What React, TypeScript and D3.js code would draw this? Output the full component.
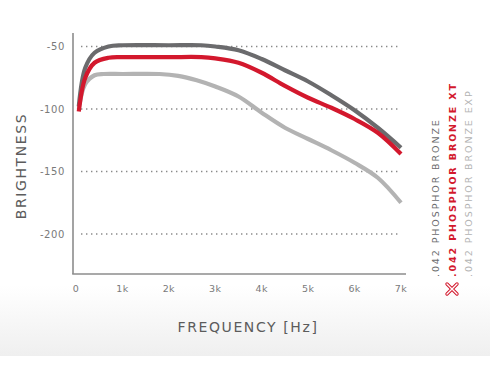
import React from 'react';
import * as d3 from 'd3';

// frequency (Hz) sample points per series
const darkFreq = [60, 200, 400, 700, 1000, 2000, 2700, 3000, 3500, 4000, 4500, 5000, 5500, 6000, 6500, 7000];
const darkVals = [-98, -67, -55, -50, -49, -49, -49, -50, -53, -60, -69, -78, -89, -101, -115, -131];

const redFreq = [60, 200, 400, 700, 1000, 2000, 2700, 3000, 3500, 4000, 4500, 5000, 5500, 6000, 6500, 7000];
const redVals = [-102, -75, -63, -59, -58.5, -58.5, -58.5, -59.5, -63, -71, -81.5, -91, -99, -108, -119, -136];

const lightFreq = [60, 200, 400, 600, 1000, 1800, 2200, 2600, 3000, 3500, 4000, 4500, 5000, 5500, 6000, 6500, 7000];
const lightVals = [-100, -80, -73, -72, -72, -72, -73.5, -77, -82, -90, -103, -115, -124, -133, -143, -155, -175];

const yTicks = [-50, -100, -150, -200];
const xTicks = [0, 1000, 2000, 3000, 4000, 5000, 6000, 7000];
const xTickLabels = ['0', '1k', '2k', '3k', '4k', '5k', '6k', '7k'];

const legendLabels = ['.042 PHOSPHOR BRONZE', '.042 PHOSPHOR BRONZE XT', '.042 PHOSPHOR BRONZE EXP'];
const legendColors = ['#6b6b6d', '#d3182d', '#b3b3b3'];

const W = 490, H = 368;
const font = '"DejaVu Sans", sans-serif';

export default function App() {
  const x = d3.scaleLinear().domain([0, 7000]).range([76, 401]);
  const y = d3.scaleLinear().domain([-50, -200]).range([46.5, 234]);

  const line = d3.line<[number, number]>()
    .x(d => x(d[0]))
    .y(d => y(d[1]))
    .curve(d3.curveCatmullRom.alpha(0.5));

  const series = [
    { f: lightFreq, v: lightVals, color: legendColors[2] },
    { f: darkFreq, v: darkVals, color: legendColors[0] },
    { f: redFreq, v: redVals, color: legendColors[1] },
  ];

  return (
    <svg width={W} height={H} style={{ position: 'absolute', left: 0, top: 0, background: '#fff' }}>
      <defs>
        <linearGradient id="bg" x1="0" y1="0" x2="0" y2="1">
          <stop offset="0" stopColor="#ffffff" />
          <stop offset="1" stopColor="#efefef" />
        </linearGradient>
      </defs>
      <rect x={0} y={0} width={W} height={H} fill="#fff" />
      <rect x={0} y={285} width={W} height={71} fill="url(#bg)" />

      {/* gridlines */}
      {yTicks.map(t => (
        <line key={t} x1={81} x2={401} y1={y(t)} y2={y(t)}
          stroke="#8a8a8a" strokeWidth={1.4} strokeDasharray="1.4 3.6" />
      ))}

      {/* axes */}
      <line x1={73} x2={73} y1={33} y2={274} stroke="#8c8c8c" strokeWidth={1.6} />
      <line x1={72.2} x2={406} y1={274} y2={274} stroke="#8c8c8c" strokeWidth={1.6} />

      {yTicks.map(t => (
        <text key={t} x={65} y={y(t) + 3.5} textAnchor="end" fontFamily={font} fontSize={10}
          fill="#7a7a7a" letterSpacing={0.6}>{t}</text>
      ))}
      {xTicks.map((t, i) => (
        <text key={t} x={x(t)} y={292} textAnchor="middle" fontFamily={font} fontSize={9.5}
          fill="#7a7a7a" letterSpacing={0.4}>{xTickLabels[i]}</text>
      ))}

      <text x={248} y={332} textAnchor="middle" fontFamily={font} fontSize={14}
        fill="#5c5c5c" letterSpacing={1.6}>FREQUENCY [Hz]</text>
      <text transform="translate(26,166) rotate(-90)" textAnchor="middle" fontFamily={font} fontSize={14}
        fill="#5c5c5c" letterSpacing={1.6}>BRIGHTNESS</text>

      {/* curves */}
      {series.map((s, i) => (
        <path key={i} d={line(s.f.map((f, j) => [f, s.v[j]]) as [number, number][]) || ''}
          fill="none" stroke={s.color} strokeWidth={4.2} strokeLinecap="butt" />
      ))}

      {/* legend */}
      {legendLabels.map((l, i) => (
        <text key={l} transform={`translate(${439 + i * 16.5},277) rotate(-90)`} fontFamily={font}
          fontSize={9.5} fontWeight={i === 1 ? 'bold' : 'normal'} fill={legendColors[i]}
          letterSpacing={1.9}>{l}</text>
      ))}
      <g transform="translate(452,289)">
        <path d="M-5,-5 L5,5 M5,-5 L-5,5" stroke="#d3182d" strokeWidth={3.4} strokeLinecap="round" />
        <path d="M-5,-5 L5,5 M5,-5 L-5,5" stroke="#fff" strokeWidth={1.4} strokeLinecap="round" />
      </g>
    </svg>
  );
}
